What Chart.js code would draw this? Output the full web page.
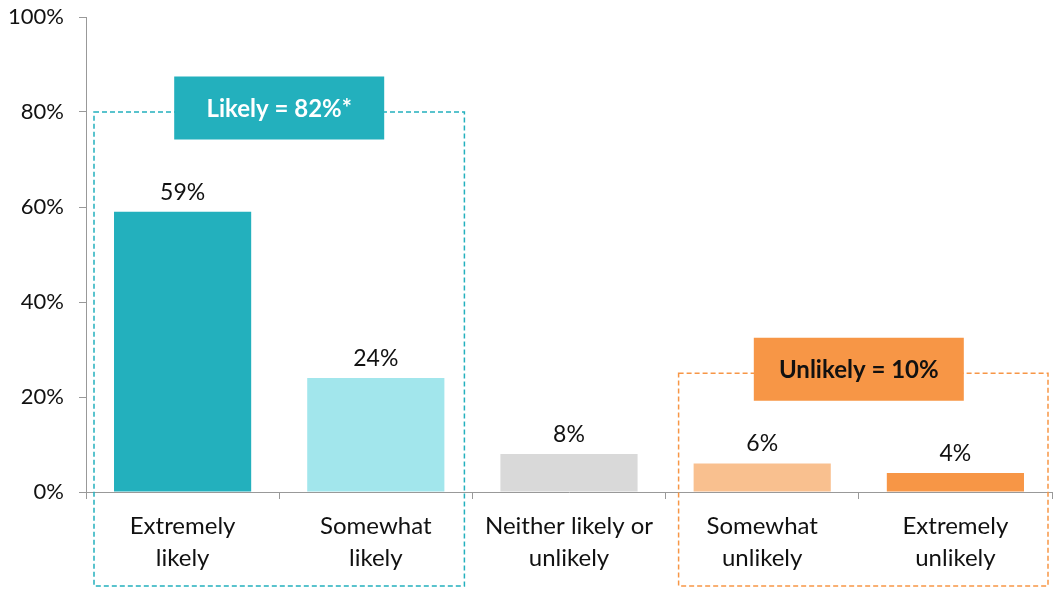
<!DOCTYPE html>
<html>
<head>
<meta charset="utf-8">
<script src="https://cdn.jsdelivr.net/npm/chart.js@4"></script>
<style>
  html, body { margin: 0; padding: 0; background: #fff; }
  #wrap { width: 1057px; height: 592px; position: relative; }
</style>
</head>
<body>
<div id="wrap"><canvas id="c" width="1057" height="592"></canvas></div>
<script>
const categories = [["Extremely", "likely"], ["Somewhat", "likely"], ["Neither likely or", "unlikely"], ["Somewhat", "unlikely"], ["Extremely", "unlikely"]];
const values = [59, 24, 8, 6, 4];
const barColors = ["#23B0BD", "#A2E6EC", "#D9D9D9", "#F9C08F", "#F79646"];
const yTicks = [0, 20, 40, 60, 80, 100];
const groupLabels = ["Likely = 82%*", "Unlikely = 10%"];
const groupRanges = [[0, 1], [3, 4]];
const groupTops = [80, 25];
const groupColors = ["#23B0BD", "#F79646"];
const groupTextColors = ["#FFFFFF", "#111111"];

const FONT = "Lato, 'Open Sans', sans-serif";

const valueLabels = {
  id: 'valueLabels',
  afterDatasetsDraw(chart) {
    const ctx = chart.ctx;
    const meta = chart.getDatasetMeta(0);
    ctx.save();
    ctx.font = "23px " + FONT;
    ctx.fillStyle = "#111";
    ctx.textAlign = "center";
    ctx.textBaseline = "bottom";
    meta.data.forEach((bar, i) => {
      ctx.fillText(values[i] + "%", bar.x, bar.y - 8);
    });
    ctx.restore();
  }
};

const groupBoxes = {
  id: 'groupBoxes',
  afterDraw(chart) {
    const ctx = chart.ctx;
    const xs = chart.scales.x, ys = chart.scales.y;
    const catW = xs.getPixelForValue(1) - xs.getPixelForValue(0);
    const insets = [[8, 8], [13, 4]];
    ctx.save();
    groupRanges.forEach((r, g) => {
      const left = xs.getPixelForValue(r[0]) - catW / 2 + insets[g][0];
      const right = xs.getPixelForValue(r[1]) + catW / 2 - insets[g][1];
      const top = ys.getPixelForValue(groupTops[g]);
      const bottom = chart.chartArea.bottom + 94;
      ctx.setLineDash([5, 3]);
      ctx.lineWidth = 1.5;
      ctx.strokeStyle = groupColors[g];
      ctx.strokeRect(left, top, right - left, bottom - top);
      ctx.setLineDash([]);
      const cx = (xs.getPixelForValue(r[0]) + xs.getPixelForValue(r[1])) / 2;
      const cy = top - 4;
      const w = 210, h = 63;
      ctx.fillStyle = groupColors[g];
      ctx.fillRect(cx - w / 2, cy - h / 2, w, h);
      ctx.fillStyle = groupTextColors[g];
      ctx.font = "bold 24px " + FONT;
      ctx.textAlign = "center";
      ctx.textBaseline = "middle";
      ctx.fillText(groupLabels[g], cx, cy + 1);
    });
    ctx.restore();
  }
};

new Chart(document.getElementById('c'), {
  type: 'bar',
  data: {
    labels: categories,
    datasets: [{
      data: values,
      backgroundColor: barColors,
      borderWidth: 0,
      categoryPercentage: 1.0,
      barPercentage: 0.71
    }]
  },
  options: {
    responsive: false,
    animation: false,
    devicePixelRatio: 1,
    layout: { padding: { top: 17, right: 5, left: 0, bottom: 0 } },
    plugins: { legend: { display: false }, tooltip: { enabled: false } },
    scales: {
      x: {
        grid: { display: true, drawOnChartArea: false, drawTicks: true, tickLength: 7, offset: true, color: "#999", lineWidth: 1 },
        border: { display: true, color: "#999", width: 1 },
        ticks: { color: "#111", font: { family: FONT, size: 24, lineHeight: 1.3 }, padding: 12, maxRotation: 0, autoSkip: false },
        afterFit(scale) { scale.height = 100; scale.paddingLeft = 0; scale.paddingRight = 0; }
      },
      y: {
        min: 0, max: 100,
        afterBuildTicks(scale) { scale.ticks = yTicks.map(v => ({ value: v })); },
        grid: { display: true, drawOnChartArea: false, drawTicks: true, tickLength: 7, color: "#999", lineWidth: 1 },
        border: { display: true, color: "#999", width: 1 },
        ticks: { color: "#111", font: { family: FONT, size: 22 }, padding: 15, callback: v => v + "%" },
        afterFit(scale) { scale.width = 86; scale.paddingTop = 0; scale.paddingBottom = 0; }
      }
    }
  },
  plugins: [valueLabels, groupBoxes]
});
</script>
</body>
</html>
